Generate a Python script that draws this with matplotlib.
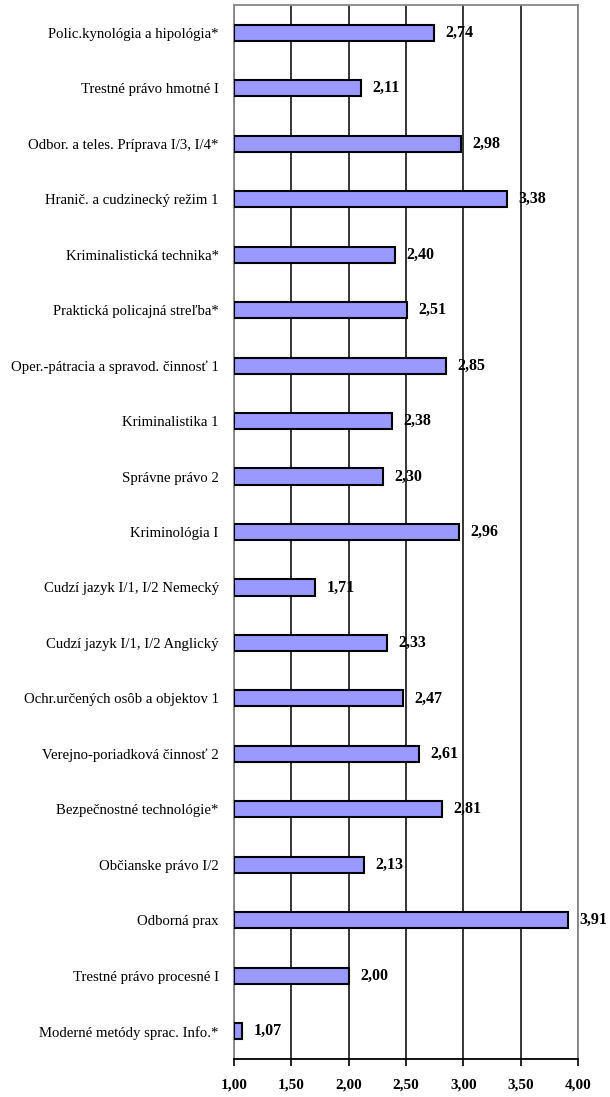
import matplotlib.pyplot as plt
import numpy as np

plt.rcParams['font.family'] = ['Liberation Serif', 'DejaVu Serif']

# Data (top to bottom as in the chart)
subjects = [
    'Polic.kynológia a hipológia*',
    'Trestné právo hmotné I',
    'Odbor. a teles. Príprava I/3, I/4*',
    'Hranič. a cudzinecký režim 1',
    'Kriminalistická technika*',
    'Praktická policajná streľba*',
    'Oper.-pátracia a spravod. činnosť 1',
    'Kriminalistika 1',
    'Správne právo 2',
    'Kriminológia I',
    'Cudzí jazyk I/1, I/2 Nemecký',
    'Cudzí jazyk I/1, I/2 Anglický',
    'Ochr.určených osôb a objektov 1',
    'Verejno-poriadková činnosť 2',
    'Bezpečnostné technológie*',
    'Občianske právo I/2',
    'Odborná prax',
    'Trestné právo procesné I',
    'Moderné metódy sprac. Info.*',
]
grades = [2.74, 2.11, 2.98, 3.38, 2.40, 2.51, 2.85, 2.38, 2.30, 2.96,
          1.71, 2.33, 2.47, 2.61, 2.81, 2.13, 3.91, 2.00, 1.07]
x_ticks = [1.0, 1.5, 2.0, 2.5, 3.0, 3.5, 4.0]

fig = plt.figure(figsize=(6.1, 10.97), dpi=100)
ax = fig.add_axes([234 / 610, 38 / 1097, 344 / 610, 1054 / 1097])

y = np.arange(len(subjects))
ax.barh(y, np.array(grades) - 1.0, left=1.0, height=0.29,
        color='#9999ff', edgecolor='black', linewidth=1.5, zorder=3)

for yi, v in zip(y, grades):
    ax.text(v + 0.1, yi, f'{v:.2f}'.replace('.', ','), va='center', ha='left',
            fontsize=11.5, fontweight='bold', zorder=4)

ax.set_xlim(1.0, 4.0)
ax.set_ylim(len(subjects) - 0.5, -0.5)
ax.set_xticks(x_ticks)
ax.set_xticklabels([f'{t:.2f}'.replace('.', ',') for t in x_ticks],
                   fontsize=11, fontweight='bold')
ax.set_yticks(y)
ax.set_yticklabels(subjects, fontsize=10.6)
ax.tick_params(axis='y', length=0, pad=11)
ax.tick_params(axis='x', length=5, width=1.2, color='black', pad=9, direction='out')

ax.xaxis.grid(True, color='black', linewidth=1.1, zorder=0)
ax.set_axisbelow(True)
for side in ['left', 'top', 'right']:
    ax.spines[side].set_color('#888888')
    ax.spines[side].set_linewidth(1.3)
ax.spines['bottom'].set_color('black')
ax.spines['bottom'].set_linewidth(1.3)

fig.savefig('out.png', dpi=100)
